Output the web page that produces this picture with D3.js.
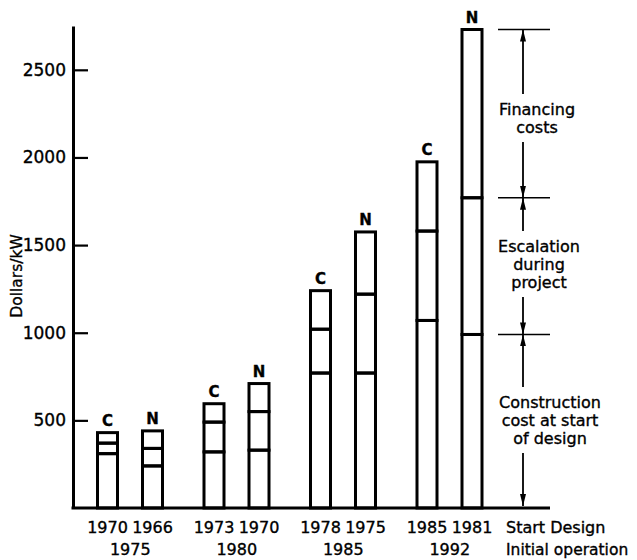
<!DOCTYPE html>
<html><head><meta charset="utf-8">
<script src="https://cdn.jsdelivr.net/npm/d3@7"></script>
<style>
body{margin:0;background:#fff}
svg{display:block}
text{font-family:"DejaVu Sans",sans-serif;fill:#000;stroke:#000;stroke-width:0.35px}
</style>
</head><body><svg id="c" width="637" height="560"></svg>
<script>
// ---- data ----
const initialOperation = ["1975","1980","1985","1992"];
const plantTypes = ["C","N"];
const startDesign = ["1970","1966","1973","1970","1978","1975","1985","1981"];
const construction = [310,240,320,330,770,770,1070,990];
const escalation   = [60,100,170,220,250,450,510,780];
const financing    = [60,100,105,160,220,355,395,960];
const yTicks = [500,1000,1500,2000,2500];
const seriesKeys = ["construction","escalation","financing"];
const seriesLabels = [["Construction","cost at start","of design"],["Escalation","during","project"],["Financing","costs"]];

// ---- layout ----
const svg = d3.select("#c");
const axisX = 73, baseY = 508;
const y = d3.scaleLinear().domain([0,2750]).range([baseY,26]);
const xg = d3.scaleBand().domain(initialOperation).range([77,503]);
const xi = d3.scaleBand().domain(plantTypes).range([8,98]);
const barW = 20;

const rows = startDesign.map((s,i)=>({
  start:s, group:initialOperation[Math.floor(i/2)], type:plantTypes[i%2],
  construction:construction[i], escalation:escalation[i], financing:financing[i]
}));
rows.forEach(r=>{ r.cx = xg(r.group)+xi(r.type)+xi.bandwidth()/2; r.total=r.construction+r.escalation+r.financing; });

const stack = d3.stack().keys(seriesKeys)(rows);

// bars
const gBars = svg.append("g");
stack.forEach(layer=>{
  gBars.selectAll(null).data(layer).enter().append("rect")
    .attr("x",d=>d.data.cx-barW/2).attr("width",barW)
    .attr("y",d=>y(d[1])).attr("height",d=>y(d[0])-y(d[1]))
    .attr("fill","none").attr("stroke","#000").attr("stroke-width",3);
});
// C / N labels
svg.append("g").selectAll("text").data(rows).enter().append("text")
  .attr("x",d=>d.cx).attr("y",d=>y(d.total)-7)
  .attr("text-anchor","middle").attr("font-size",15).attr("font-weight","bold")
  .text(d=>d.type);

// y axis
const ya = svg.append("g").attr("transform",`translate(${axisX},0)`)
  .call(d3.axisLeft(y).tickValues(yTicks).tickSize(-15).tickSizeOuter(0).tickPadding(7).tickFormat(d3.format("d")));
ya.select(".domain").attr("stroke","#000").attr("stroke-width",3);
ya.selectAll(".tick line").attr("stroke","#000").attr("stroke-width",2.2);
ya.selectAll(".tick text").attr("font-size",17).attr("font-family","DejaVu Sans").attr("fill","#000");

svg.append("text").attr("transform",`translate(22,${276}) rotate(-90)`)
  .attr("text-anchor","middle").attr("font-size",15.5).text("Dollars/kW");

// annotation geometry
const annX = 523, hx0 = 498, hx1 = 550;
// x axis baseline
svg.append("line").attr("x1",axisX-1.5).attr("x2",hx1).attr("y1",y(0)).attr("y2",y(0))
  .attr("stroke","#000").attr("stroke-width",3);

// x labels
svg.append("g").selectAll("text").data(rows).enter().append("text")
  .attr("x",d=>d.cx).attr("y",533).attr("text-anchor","middle").attr("font-size",16).text(d=>d.start);
svg.append("g").selectAll("text").data(initialOperation).enter().append("text")
  .attr("x",d=>xg(d)+xg.bandwidth()/2).attr("y",555).attr("text-anchor","middle").attr("font-size",16).text(d=>d);
svg.append("text").attr("x",506).attr("y",533).attr("font-size",16).text("Start Design");
svg.append("text").attr("x",506).attr("y",555).attr("font-size",15.5).text("Initial operation");

// right-hand key, aligned to the last bar's segment boundaries
const ref = rows[rows.length-1];
const levels = [0, ref.construction, ref.construction+ref.escalation, ref.total].map(v=>y(v));
svg.append("defs").append("marker").attr("id","ah")
  .attr("viewBox","0 0 12 6").attr("refX",12).attr("refY",3)
  .attr("markerWidth",12).attr("markerHeight",6).attr("markerUnits","userSpaceOnUse")
  .attr("orient","auto")
  .append("path").attr("d","M0,0L12,3L0,6Z").attr("fill","#000");

[1,2,3].forEach(k=>{
  svg.append("line").attr("x1",hx0).attr("x2",hx1).attr("y1",levels[k]).attr("y2",levels[k])
    .attr("stroke","#000").attr("stroke-width",1.6);
});

const blocks = [
  {lines:seriesLabels[2], y0:115, cx:537, top:levels[3], bot:levels[2]},
  {lines:seriesLabels[1], y0:252, cx:539, top:levels[2], bot:levels[1]},
  {lines:seriesLabels[0], y0:408, cx:550, top:levels[1], bot:levels[0]}
];
const lh = 18;
blocks.forEach(b=>{
  b.lines.forEach((t,j)=>{
    svg.append("text").attr("x",b.cx).attr("y",b.y0+j*lh).attr("text-anchor","middle")
      .attr("font-size",16).text(t);
  });
  const tTop = b.y0-12-9;
  const tBot = b.y0+(b.lines.length-1)*lh+9;
  svg.append("line").attr("x1",annX).attr("x2",annX).attr("y1",tTop).attr("y2",b.top)
    .attr("stroke","#000").attr("stroke-width",1.8).attr("marker-end","url(#ah)");
  svg.append("line").attr("x1",annX).attr("x2",annX).attr("y1",tBot).attr("y2",b.bot-(b.bot===levels[0]?2:0))
    .attr("stroke","#000").attr("stroke-width",1.8).attr("marker-end","url(#ah)");
});
</script></body></html>
